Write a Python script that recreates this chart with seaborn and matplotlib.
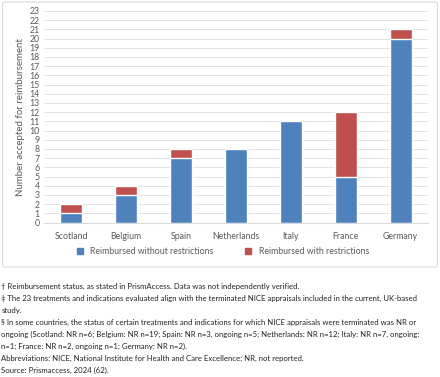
import seaborn as sns
import matplotlib.pyplot as plt
import pandas as pd
from matplotlib.patches import FancyBboxPatch

# data
countries = ["Scotland", "Belgium", "Spain", "Netherlands", "Italy", "France", "Germany"]
without_restr = [1, 3, 7, 8, 11, 5, 20]
with_restr = [1, 1, 1, 0, 0, 7, 1]

footnotes = [
    "† Reimbursement status, as stated in PrismAccess. Data was not independently verified.",
    "‡ The 23 treatments and indications evaluated align with the terminated NICE appraisals included in the current, UK-based",
    "study.",
    "§ In some countries, the status of certain treatments and indications for which NICE appraisals were terminated was NR or",
    "ongoing (Scotland: NR n=6; Belgium: NR n=19; Spain: NR n=3, ongoing n=5; Netherlands: NR n=12; Italy: NR n=7, ongoing:",
    "n=1; France: NR n=2, ongoing n=1; Germany: NR n=2).",
    "Abbreviations: NICE, National Institute for Health and Care Excellence; NR, not reported.",
    "Source: Prismaccess, 2024 (62).",
]

blue = "#4F81BD"
red = "#C0504D"
grey = "#595959"

df = pd.DataFrame({"country": countries, "without": without_restr, "with": with_restr})
df["total"] = df["without"] + df["with"]

sns.set_style("white")
plt.rcParams["font.family"] = ["Lato", "DejaVu Sans"]

fig = plt.figure(figsize=(4.4, 3.77), dpi=100)

# chart frame
frame = FancyBboxPatch((0.006, 1 - 267 / 377), 0.988, 265 / 377,
                       boxstyle="round,pad=0,rounding_size=0.005",
                       transform=fig.transFigure, fc="white", ec="#D9D9D9", lw=0.8, zorder=-5)
fig.patches.append(frame)

ax = fig.add_axes([0.1, 1 - 222.5 / 377, 0.873, 211.5 / 377])
ax.patch.set_alpha(0)
sns.barplot(data=df, x="country", y="total", color=red, width=0.4, saturation=1, ax=ax)
sns.barplot(data=df, x="country", y="without", color=blue, width=0.4, saturation=1, ax=ax)

ax.set_ylim(0, 23)
ax.set_yticks(range(0, 24))
ax.yaxis.grid(True, color="#E3E3E3", lw=0.7)
ax.set_axisbelow(True)
for s in ["top", "right", "left"]:
    ax.spines[s].set_visible(False)
ax.spines["bottom"].set_color("#D9D9D9")
ax.tick_params(axis="both", length=0, labelsize=6.3, labelcolor=grey, pad=3)
ax.tick_params(axis="x", pad=7)
ax.set_xlabel("")
ax.set_ylabel("Number accepted for reimbursement", fontsize=7, color=grey, labelpad=3)

handles = [plt.Line2D([], [], marker="s", ls="", color=blue, markersize=4),
           plt.Line2D([], [], marker="s", ls="", color=red, markersize=4)]
fig.legend(handles, ["Reimbursed without restrictions", "Reimbursed with restrictions"],
           loc="center", bbox_to_anchor=(0.5, 1 - 252 / 377), ncol=2, frameon=False,
           fontsize=6.3, labelcolor=grey, handletextpad=0.2, columnspacing=3)

for i, line in enumerate(footnotes):
    y = 286 + 12 * i
    fig.text(0.003, 1 - y / 377, line, fontsize=5.6, color="#222222", va="center", ha="left")

fig.savefig("out.png", dpi=100)
